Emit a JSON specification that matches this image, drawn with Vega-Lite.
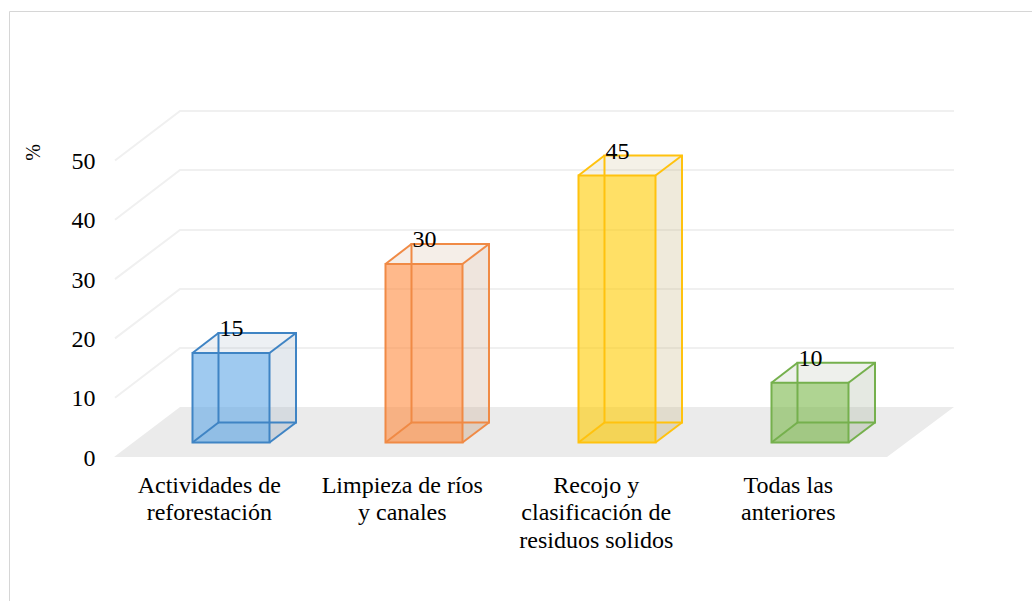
{
"$schema":"https://vega.github.io/schema/vega-lite/v6.json",
"autosize":"none",
"padding":{"left":9,"top":11,"right":0,"bottom":0},
"width":1023,"height":590,
"background":"white",
"view":{"stroke":"#d6d6d6","strokeWidth":1},
"resolve":{"scale":{"fill":"independent"}},
"datasets":{
"grid":[
{"tick":10,"x":0.399,"y":10},{"tick":10,"x":0.736,"y":18.38},{"tick":10,"x":4.746,"y":18.38},
{"tick":20,"x":0.399,"y":20},{"tick":20,"x":0.736,"y":28.33},{"tick":20,"x":4.746,"y":28.33},
{"tick":30,"x":0.399,"y":30},{"tick":30,"x":0.736,"y":38.28},{"tick":30,"x":4.746,"y":38.28},
{"tick":40,"x":0.399,"y":40},{"tick":40,"x":0.736,"y":48.4},{"tick":40,"x":4.746,"y":48.4},
{"tick":50,"x":0.399,"y":50},{"tick":50,"x":0.736,"y":58.35},{"tick":50,"x":4.746,"y":58.35}
],
"floor":[{"y":0,"x":0.394,"x2":4.399},{"y":8.43,"x":0.736,"x2":4.746}],
"bars":[
{"category":"Actividades de reforestación","value":15,"x":1.0026,"y":20.91},
{"category":"Limpieza de ríos y canales","value":30,"x":2.0026,"y":35.92},
{"category":"Recojo y clasificación de residuos solidos","value":45,"x":3.0026,"y":50.84},
{"category":"Todas las anteriores","value":10,"x":4.0026,"y":15.9}
],
"side":[
{"category":"A","x":1.1995,"y":2.445,"y2":17.54},{"category":"A","x":1.3368,"y":5.818,"y2":20.91},
{"category":"B","x":2.1995,"y":2.445,"y2":32.55},{"category":"B","x":2.3368,"y":5.818,"y2":35.92},
{"category":"C","x":3.1995,"y":2.445,"y2":47.47},{"category":"C","x":3.3368,"y":5.818,"y2":50.84},
{"category":"D","x":4.1995,"y":2.445,"y2":12.53},{"category":"D","x":4.3368,"y":5.818,"y2":15.9}
],
"caps":[
{"category":"A","y":17.54,"x":0.8005,"x2":1.1995},{"category":"A","y":20.91,"x":0.9352,"x2":1.3368},
{"category":"B","y":32.55,"x":1.8005,"x2":2.1995},{"category":"B","y":35.92,"x":1.9352,"x2":2.3368},
{"category":"C","y":47.47,"x":2.8005,"x2":3.1995},{"category":"C","y":50.84,"x":2.9352,"x2":3.3368},
{"category":"D","y":12.53,"x":3.8005,"x2":4.1995},{"category":"D","y":15.9,"x":3.9352,"x2":4.3368}
],
"bases":[
{"category":"A","y":2.445,"x":0.8005,"x2":1.1995},{"category":"A","y":5.818,"x":0.9352,"x2":1.3368},
{"category":"B","y":2.445,"x":1.8005,"x2":2.1995},{"category":"B","y":5.818,"x":1.9352,"x2":2.3368},
{"category":"C","y":2.445,"x":2.8005,"x2":3.1995},{"category":"C","y":5.818,"x":2.9352,"x2":3.3368},
{"category":"D","y":2.445,"x":3.8005,"x2":4.1995},{"category":"D","y":5.818,"x":3.9352,"x2":4.3368}
],
"front":[
{"category":"A","x":0.8005,"x2":1.1995,"y":2.445,"y2":17.54},
{"category":"B","x":1.8005,"x2":2.1995,"y":2.445,"y2":32.55},
{"category":"C","x":2.8005,"x2":3.1995,"y":2.445,"y2":47.47},
{"category":"D","x":3.8005,"x2":4.1995,"y":2.445,"y2":12.53}
],
"back":[
{"category":"A","x":0.9352,"x2":1.3368,"y":5.818,"y2":20.91},
{"category":"B","x":1.9352,"x2":2.3368,"y":5.818,"y2":35.92},
{"category":"C","x":2.9352,"x2":3.3368,"y":5.818,"y2":50.84},
{"category":"D","x":3.9352,"x2":4.3368,"y":5.818,"y2":15.9}
],
"edges":[
{"category":"A","x":0.8005,"x2":0.9352,"y":2.445,"y2":5.818},{"category":"A","x":1.1995,"x2":1.3368,"y":2.445,"y2":5.818},{"category":"A","x":0.8005,"x2":0.9352,"y":17.54,"y2":20.91},{"category":"A","x":1.1995,"x2":1.3368,"y":17.54,"y2":20.91},
{"category":"B","x":1.8005,"x2":1.9352,"y":2.445,"y2":5.818},{"category":"B","x":2.1995,"x2":2.3368,"y":2.445,"y2":5.818},{"category":"B","x":1.8005,"x2":1.9352,"y":32.55,"y2":35.92},{"category":"B","x":2.1995,"x2":2.3368,"y":32.55,"y2":35.92},
{"category":"C","x":2.8005,"x2":2.9352,"y":2.445,"y2":5.818},{"category":"C","x":3.1995,"x2":3.3368,"y":2.445,"y2":5.818},{"category":"C","x":2.8005,"x2":2.9352,"y":47.47,"y2":50.84},{"category":"C","x":3.1995,"x2":3.3368,"y":47.47,"y2":50.84},
{"category":"D","x":3.8005,"x2":3.9352,"y":2.445,"y2":5.818},{"category":"D","x":4.1995,"x2":4.3368,"y":2.445,"y2":5.818},{"category":"D","x":3.8005,"x2":3.9352,"y":12.53,"y2":15.9},{"category":"D","x":4.1995,"x2":4.3368,"y":12.53,"y2":15.9}
]
},
"encoding":{
"x":{"field":"x","type":"quantitative","scale":{"domain":[-0.15026,5.1503],"nice":false,"zero":false},
"axis":{"title":null,"values":[0.885,1.885,2.89,3.885],"orient":"bottom","offset":-128,"domain":false,"ticks":false,"grid":false,"labelPadding":0,"labelFont":"Liberation Serif","labelFontSize":24,"labelColor":"#000000","labelLineHeight":27.5,"labelBaseline":"top","labelAlign":"center","labelOverlap":false,"labelFlush":false,"labelBound":false,
"labelExpr":"datum.value<1?['Actividades de','reforestación']:datum.value<2?['Limpieza de ríos','y canales']:datum.value<3?['Recojo y','clasificación de','residuos solidos']:['Todas las','anteriores']"}},
"y":{"field":"y","type":"quantitative","scale":{"domain":[-24.28,75.21],"nice":false,"zero":false},
"axis":{"title":"%","values":[0,10,20,30,40,50],"orient":"left","offset":-86,"domain":false,"ticks":false,"grid":false,"labelPadding":0,"labelOffset":1,"labelFont":"Liberation Serif","labelFontSize":24,"labelColor":"#000000","labelOverlap":false,"labelFlush":false,"labelBound":false,"titleFont":"Liberation Serif","titleFontSize":20,"titleFontWeight":"normal","titleColor":"#000000","titleAngle":-90,"titleX":-62,"titleY":141,"titleAlign":"center","titleBaseline":"middle"}}
},
"layer":[
{"data":{"name":"grid"},"mark":{"type":"line","stroke":"#f0f0f0","strokeWidth":2},"encoding":{"detail":{"field":"tick"}}},
{"data":{"name":"floor"},"mark":{"type":"area","orient":"horizontal","fill":"#ebebeb"},"encoding":{"x2":{"field":"x2"}}},
{"data":{"name":"side"},"mark":{"type":"area","orient":"vertical","fillOpacity":0.3},"encoding":{"y2":{"field":"y2"},"fill":{"field":"category","type":"nominal","legend":null,"scale":{"domain":["A","B","C","D"],"range":["#a5b6c6","#cba98e","#cab987","#aab6a0"]}}}},
{"data":{"name":"caps"},"mark":{"type":"area","orient":"horizontal","fillOpacity":0.2},"encoding":{"x2":{"field":"x2"},"fill":{"field":"category","type":"nominal","legend":null,"scale":{"domain":["A","B","C","D"],"range":["#a5b6c6","#cba98e","#cab987","#aab6a0"]}}}},
{"data":{"name":"bases"},"mark":{"type":"area","orient":"horizontal","fillOpacity":0.2},"encoding":{"x2":{"field":"x2"},"fill":{"field":"category","type":"nominal","legend":null,"scale":{"domain":["A","B","C","D"],"range":["#a5b6c6","#cba98e","#cab987","#aab6a0"]}}}},
{"data":{"name":"front"},"mark":{"type":"rect","fillOpacity":0.6},"encoding":{"x2":{"field":"x2"},"y2":{"field":"y2"},"fill":{"field":"category","type":"nominal","legend":null,"scale":{"domain":["A","B","C","D"],"range":["#5fa7e6","#ff8a3d","#ffcb00","#79b84a"]}}}},
{"data":{"name":"back"},"mark":{"type":"rect","fillOpacity":0,"strokeWidth":2},"encoding":{"x2":{"field":"x2"},"y2":{"field":"y2"},"stroke":{"field":"category","type":"nominal","legend":null,"scale":{"domain":["A","B","C","D"],"range":["#3f84c4","#f08a45","#ffc20e","#75b04d"]}}}},
{"data":{"name":"edges"},"mark":{"type":"rule","strokeWidth":2},"encoding":{"x2":{"field":"x2"},"y2":{"field":"y2"},"stroke":{"field":"category","type":"nominal","legend":null,"scale":{"domain":["A","B","C","D"],"range":["#3f84c4","#f08a45","#ffc20e","#75b04d"]}}}},
{"data":{"name":"front"},"mark":{"type":"rect","fillOpacity":0,"strokeWidth":2},"encoding":{"x2":{"field":"x2"},"y2":{"field":"y2"},"stroke":{"field":"category","type":"nominal","legend":null,"scale":{"domain":["A","B","C","D"],"range":["#3f84c4","#f08a45","#ffc20e","#75b04d"]}}}},
{"data":{"name":"bars"},"mark":{"type":"text","font":"Liberation Serif","fontSize":24,"color":"#000000","align":"center","baseline":"alphabetic","dy":3},"encoding":{"text":{"field":"value","type":"quantitative"}}}
]
}
